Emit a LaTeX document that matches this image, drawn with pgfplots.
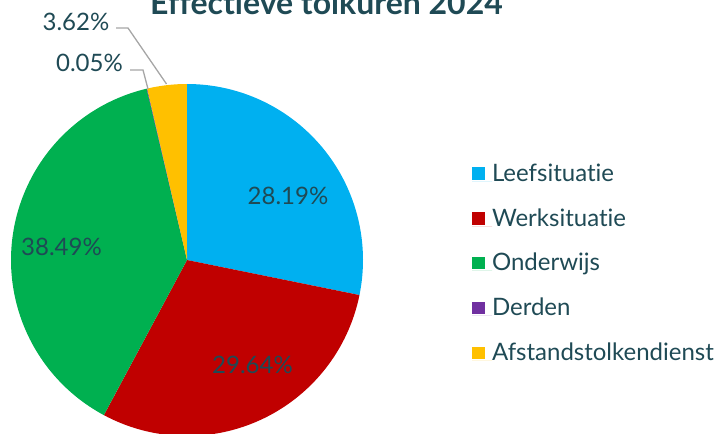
\documentclass[border=0pt]{standalone}
\usepackage{fontspec}
\setmainfont{Lato}[Ligatures=NoCommon]
\usepackage{pgfplots}
\pgfplotsset{compat=1.18}
\definecolor{txt}{HTML}{1F4A55}
\definecolor{cLeef}{HTML}{00B0F0}
\definecolor{cWerk}{HTML}{C00000}
\definecolor{cOnd}{HTML}{00B050}
\definecolor{cDer}{HTML}{7030A0}
\definecolor{cAfs}{HTML}{FFC000}
\definecolor{lead}{HTML}{A6A6A6}
% shares in percent
\def\pLeef{28.19}
\def\pWerk{29.64}
\def\pOnd{38.49}
\def\pDer{0.05}
\def\pAfs{3.62}
\begin{document}
\begin{tikzpicture}
\useasboundingbox (0,0) rectangle (718bp,434bp);
\pgfmathsetmacro\aA{90}
\pgfmathsetmacro\aB{\aA-3.6*\pLeef}
\pgfmathsetmacro\aC{\aB-3.6*\pWerk}
\pgfmathsetmacro\aD{\aC-3.6*\pOnd}
\pgfmathsetmacro\aE{\aD-3.6*\pDer}
\pgfmathsetmacro\aF{\aE-3.6*\pAfs}
\begin{axis}[
  at={(0,0)}, anchor=south west,
  width=718bp, height=434bp, scale only axis,
  xmin=0, xmax=718, ymin=0, ymax=434,
  hide axis,
  font=\fontsize{24bp}{28bp}\selectfont,
  legend style={
    at={(472/718,269/434)}, anchor=north west,
    draw=none, fill=none, inner sep=0pt, outer sep=0pt,
    row sep=24bp,
    text=txt,
    font=\fontsize{24bp}{28bp}\selectfont,
    nodes={inner sep=0pt, outer sep=0pt, text height=16bp, text depth=5bp, anchor=base west},
  },
  legend cell align=left,
  legend image code/.code={
    \fill[#1] (0bp,1.5bp) rectangle (12.5bp,14bp);
    \path (0bp,0bp) -- (20bp,0bp);
  },
]
\addplot[fill=cLeef,draw=none,domain=\aB:\aA,samples=80,variable=\t]
  ({187+176*cos(\t)},{174+176*sin(\t)}) -- (axis cs:187,174) -- cycle;
\addlegendentry{Leefsituatie}
\addplot[fill=cWerk,draw=none,domain=\aC:\aB,samples=80,variable=\t]
  ({187+176*cos(\t)},{174+176*sin(\t)}) -- (axis cs:187,174) -- cycle;
\addlegendentry{Werksituatie}
\addplot[fill=cOnd,draw=none,domain=\aD:\aC,samples=100,variable=\t]
  ({187+176*cos(\t)},{174+176*sin(\t)}) -- (axis cs:187,174) -- cycle;
\addlegendentry{Onderwijs}
\addplot[fill=cDer,draw=none,domain=\aE:\aD,samples=2,variable=\t]
  ({187+176*cos(\t)},{174+176*sin(\t)}) -- (axis cs:187,174) -- cycle;
\addlegendentry{Derden}
\addplot[fill=cAfs,draw=none,domain=\aF:\aE,samples=10,variable=\t]
  ({187+176*cos(\t)},{174+176*sin(\t)}) -- (axis cs:187,174) -- cycle;
\addlegendentry{Afstandstolkendienst}
% leader lines
\addplot[lead, line width=1.3bp, forget plot] coordinates {(116,406) (128,406) (166.5,350)};
\addplot[lead, line width=1.3bp, forget plot] coordinates {(130,364) (143,364) (148,345)};
% labels
\node[anchor=base, text=txt] at (axis cs:288,229) {28.19\%};
\node[anchor=base, text=txt] at (axis cs:252.5,60) {29.64\%};
\node[anchor=base, text=txt] at (axis cs:61.5,178) {38.49\%};
\node[anchor=base east, text=txt, inner sep=0pt] at (axis cs:109.5,403) {3.62\%};
\node[anchor=base east, text=txt, inner sep=0pt] at (axis cs:123,362) {0.05\%};
\node[anchor=base, text=txt, font=\bfseries\fontsize{32bp}{36bp}\selectfont] at (axis cs:326.5,419) {Effectieve tolkuren 2024};
\end{axis}
\end{tikzpicture}
\end{document}
